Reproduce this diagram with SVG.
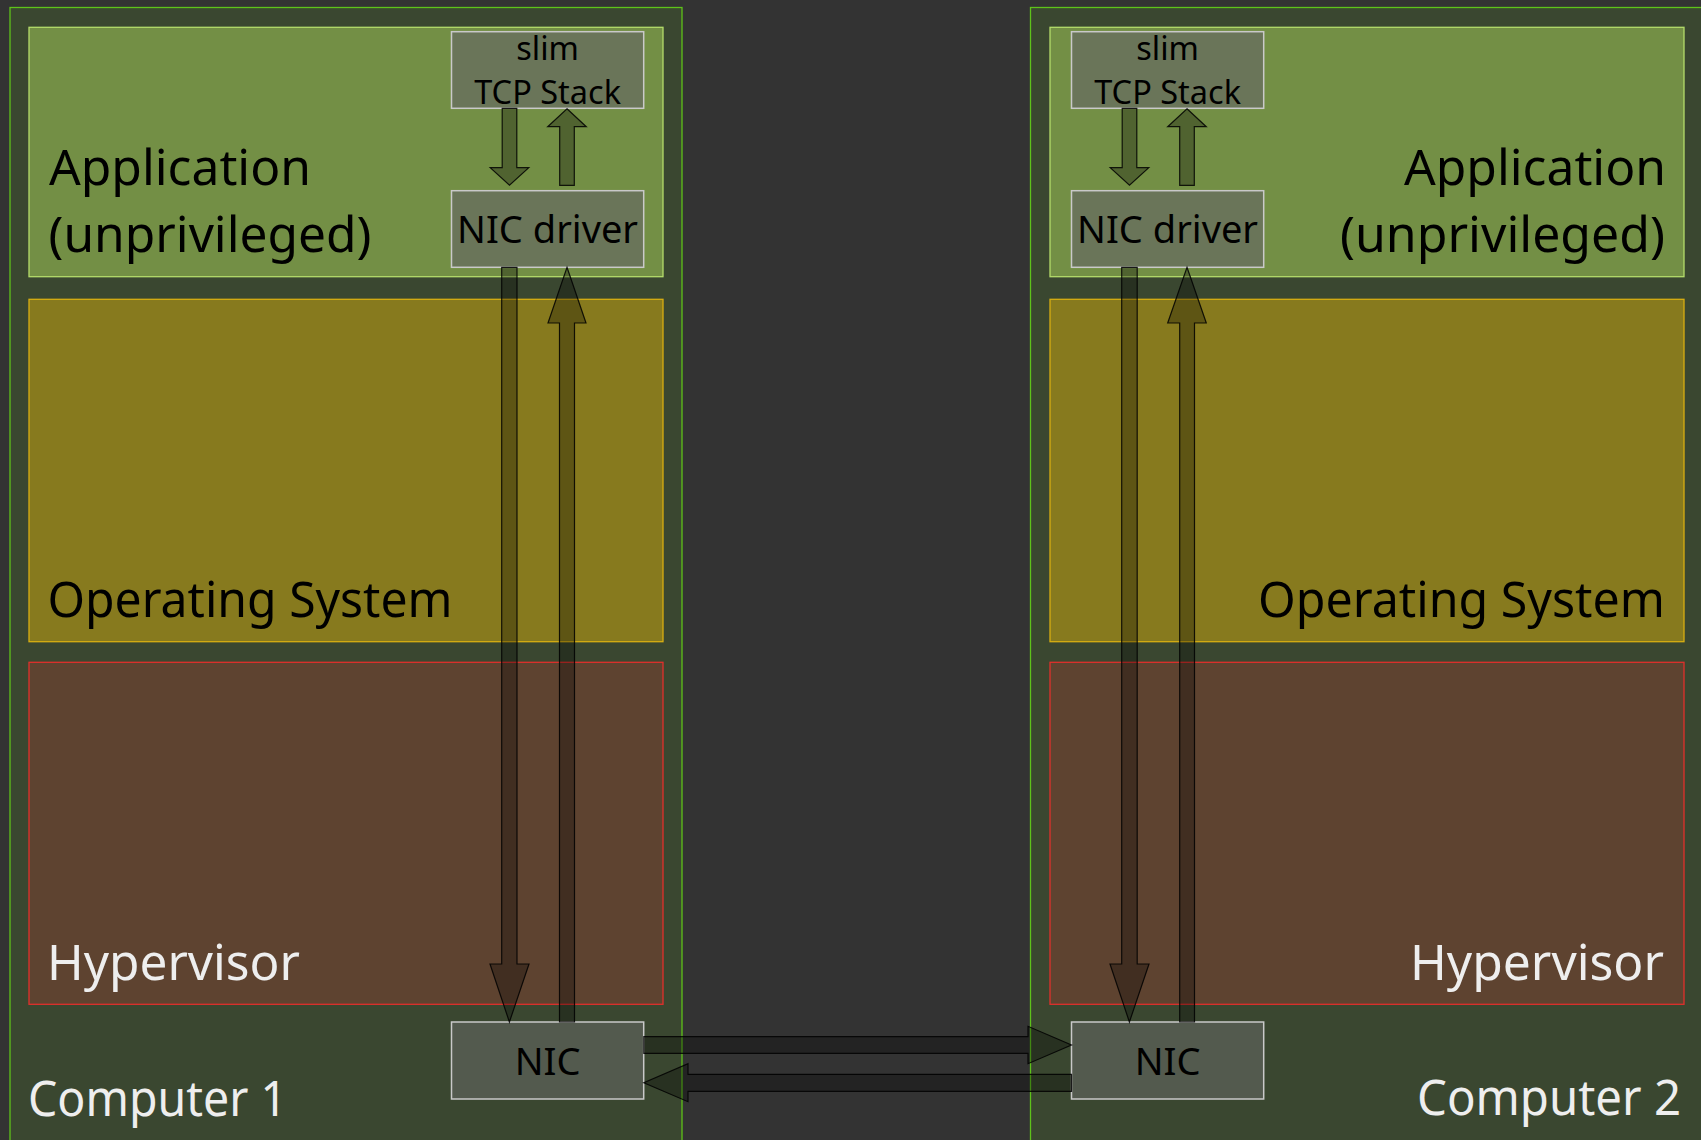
<svg xmlns="http://www.w3.org/2000/svg" width="1701" height="1140" viewBox="0 0 1701 1140">
<style>
.comp{fill:#3a4730;stroke:#5ec21a;stroke-width:1.3}
.app{fill:#738f45;stroke:#b4dc6a;stroke-width:1.3}
.os{fill:#877a1e;stroke:#d8ae12;stroke-width:1.3}
.hyp{fill:#5e4330;stroke:#e0302c;stroke-width:1.3}
.box{stroke:#c9c9c9;stroke-width:1.5}
.boxa{fill:#6a7559}
.boxn{fill:#535a4e}
.arr{fill:#000;fill-opacity:0.3;stroke:#000;stroke-opacity:0.85;stroke-width:1.2;stroke-linejoin:miter}
text{font-family:"Noto Sans","Open Sans","DejaVu Sans",sans-serif}
.big{font-size:48.5px}
.dark{fill:#000}
.light{fill:#eeeeee}
.bt{font-size:38px;text-anchor:middle;fill:#000}
.st{font-size:32.5px;text-anchor:middle;fill:#000}
</style>
<rect x="0" y="0" width="1701" height="1140" fill="#333333"/>

<g id="computer1">
<rect class="comp" x="10" y="7.5" width="672" height="1145"/>
<text class="big light" x="28" y="1116" textLength="259" lengthAdjust="spacingAndGlyphs">Computer 1</text>
</g>
<g id="application1">
<rect class="app" x="29" y="27.3" width="634" height="249.4"/>
<text class="big dark" x="49" y="185" textLength="262" lengthAdjust="spacingAndGlyphs">Application</text>
<text class="big dark" x="48.5" y="252" textLength="323" lengthAdjust="spacingAndGlyphs">(unprivileged)</text>
</g>
<g id="os1">
<rect class="os" x="29" y="299.3" width="634" height="342.4"/>
<text class="big dark" x="47.5" y="617" textLength="405" lengthAdjust="spacingAndGlyphs">Operating System</text>
</g>
<g id="hypervisor1">
<rect class="hyp" x="29" y="662.3" width="634" height="342"/>
<text class="big light" x="47" y="980" textLength="253" lengthAdjust="spacingAndGlyphs">Hypervisor</text>
</g>
<g id="tcp1">
<rect class="box boxa" x="451.5" y="31.7" width="192.2" height="76.6"/>
<text class="st" x="547.6" y="60">slim</text>
<text class="st" x="547.6" y="104">TCP Stack</text>
</g>
<g id="nicdriver1">
<rect class="box boxa" x="451.5" y="190.7" width="192.2" height="76.6"/>
<text class="bt" x="547.6" y="243">NIC driver</text>
</g>
<g id="nic1">
<rect class="box boxn" x="451.5" y="1022" width="192.2" height="77"/>
<text class="bt" x="547.6" y="1075">NIC</text>
</g>

<g id="computer2">
<rect class="comp" x="1030.5" y="7.5" width="680" height="1145"/>
<text class="big light" x="1681" y="1115" text-anchor="end" textLength="264" lengthAdjust="spacingAndGlyphs">Computer 2</text>
</g>
<g id="application2">
<rect class="app" x="1050" y="27.3" width="634" height="249.4"/>
<text class="big dark" x="1666" y="185" text-anchor="end" textLength="262" lengthAdjust="spacingAndGlyphs">Application</text>
<text class="big dark" x="1665" y="252" text-anchor="end" textLength="325" lengthAdjust="spacingAndGlyphs">(unprivileged)</text>
</g>
<g id="os2">
<rect class="os" x="1050" y="299.3" width="634" height="342.4"/>
<text class="big dark" x="1665" y="617" text-anchor="end" textLength="407" lengthAdjust="spacingAndGlyphs">Operating System</text>
</g>
<g id="hypervisor2">
<rect class="hyp" x="1050" y="662.3" width="634" height="342"/>
<text class="big light" x="1664" y="980" text-anchor="end" textLength="254" lengthAdjust="spacingAndGlyphs">Hypervisor</text>
</g>
<g id="tcp2">
<rect class="box boxa" x="1071.5" y="31.7" width="192.2" height="76.6"/>
<text class="st" x="1167.6" y="60">slim</text>
<text class="st" x="1167.6" y="104">TCP Stack</text>
</g>
<g id="nicdriver2">
<rect class="box boxa" x="1071.5" y="190.7" width="192.2" height="76.6"/>
<text class="bt" x="1167.6" y="243">NIC driver</text>
</g>
<g id="nic2">
<rect class="box boxn" x="1071.5" y="1022" width="192.2" height="77"/>
<text class="bt" x="1167.6" y="1075">NIC</text>
</g>

<g id="connectors">
<polygon class="arr" points="502.2,108.3 516.8,108.3 516.8,167.7 528.8,167.7 509.5,185.3 490.2,167.7 502.2,167.7"/>
<polygon class="arr" points="567,108.7 586.3,126.7 574.3,126.7 574.3,185.3 559.7,185.3 559.7,126.7 547.7,126.7"/>
<polygon class="arr" points="501.7,267.3 517,267.3 517,964 529,964 509.4,1022 490,964 501.7,964"/>
<polygon class="arr" points="567,267.3 586,323 574.5,323 574.5,1022 559.5,1022 559.5,323 548,323"/>
<polygon class="arr" points="1122.2,108.3 1136.8,108.3 1136.8,167.7 1148.8,167.7 1129.5,185.3 1110.2,167.7 1122.2,167.7"/>
<polygon class="arr" points="1187,108.7 1206.3,126.7 1194.3,126.7 1194.3,185.3 1179.7,185.3 1179.7,126.7 1167.7,126.7"/>
<polygon class="arr" points="1121.7,267.3 1137.2,267.3 1137.2,964 1149,964 1129.4,1022 1110,964 1121.7,964"/>
<polygon class="arr" points="1187,267.3 1206.3,323 1194.5,323 1194.5,1022 1179.7,1022 1179.7,323 1167.7,323"/>
<polygon class="arr" points="643.8,1036.7 1028,1036.7 1028,1026.3 1071.5,1045 1028,1063.7 1028,1053.3 643.8,1053.3"/>
<polygon class="arr" points="1071.5,1074.3 688,1074.3 688,1063.7 643.8,1082.8 688,1101.7 688,1091.3 1071.5,1091.3"/>
</g>
</svg>
